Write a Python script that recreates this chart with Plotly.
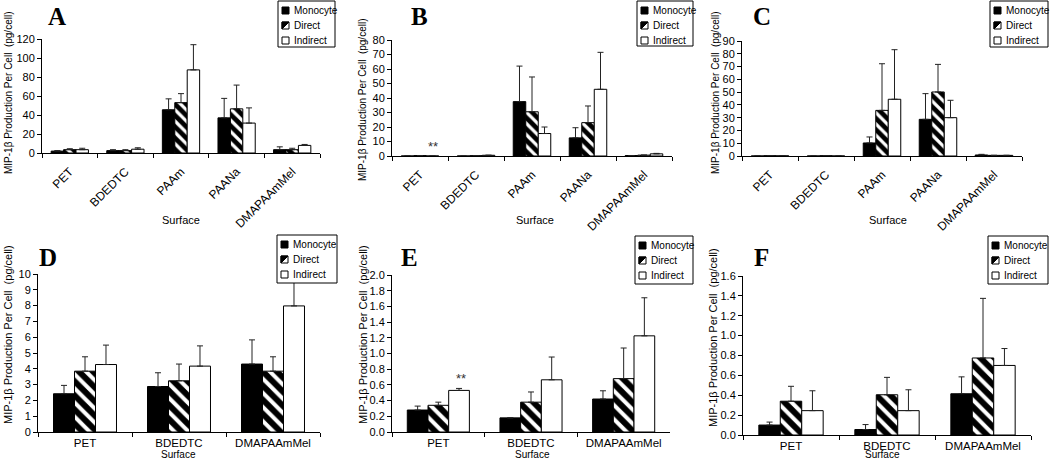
import plotly.graph_objects as go

# ---------------- data ----------------
categories_top = ["PET", "BDEDTC", "PAAm", "PAANa", "DMAPAAmMel"]
categories_bottom = ["PET", "BDEDTC", "DMAPAAmMel"]
series_names = ["Monocyte", "Direct", "Indirect"]

# Panel A
a_monocyte = [2.0, 2.5, 45.5, 37.0, 3.5]
a_monocyte_err = [0.5, 1.0, 11.5, 20.5, 3.0]
a_direct = [3.5, 2.5, 53.0, 46.5, 3.5]
a_direct_err = [1.0, 1.0, 9.5, 25.0, 1.5]
a_indirect = [3.5, 4.0, 87.5, 31.5, 8.0]
a_indirect_err = [1.5, 1.5, 26.5, 16.0, 1.0]

# Panel B
b_monocyte = [0.0, 0.0, 37.5, 12.5, 0.3]
b_monocyte_err = [0.0, 0.0, 24.5, 7.0, 0.0]
b_direct = [0.3, 0.2, 30.5, 23.0, 0.6]
b_direct_err = [0.0, 0.0, 24.0, 11.5, 0.0]
b_indirect = [0.0, 0.5, 15.5, 46.0, 1.5]
b_indirect_err = [0.0, 0.0, 4.5, 25.5, 0.3]

# Panel C
c_monocyte = [0.0, 0.0, 10.2, 28.7, 0.8]
c_monocyte_err = [0.0, 0.0, 4.7, 20.1, 0.5]
c_direct = [0.2, 0.2, 35.7, 50.1, 0.5]
c_direct_err = [0.0, 0.0, 36.5, 21.6, 0.0]
c_indirect = [0.1, 0.0, 44.4, 30.0, 0.5]
c_indirect_err = [0.0, 0.0, 38.8, 13.6, 0.0]

# Panel D
d_monocyte = [2.42, 2.88, 4.30]
d_monocyte_err = [0.53, 0.87, 1.53]
d_direct = [3.85, 3.24, 3.85]
d_direct_err = [0.91, 1.06, 0.91]
d_indirect = [4.27, 4.17, 7.98]
d_indirect_err = [1.23, 1.28, 2.00]

# Panel E
e_monocyte = [0.28, 0.18, 0.42]
e_monocyte_err = [0.05, 0.0, 0.105]
e_direct = [0.34, 0.38, 0.68]
e_direct_err = [0.04, 0.13, 0.39]
e_indirect = [0.53, 0.665, 1.225]
e_indirect_err = [0.025, 0.29, 0.485]

# Panel F
f_monocyte = [0.10, 0.055, 0.415]
f_monocyte_err = [0.03, 0.05, 0.17]
f_direct = [0.34, 0.405, 0.775]
f_direct_err = [0.15, 0.175, 0.60]
f_indirect = [0.245, 0.245, 0.70]
f_indirect_err = [0.20, 0.21, 0.17]

y_ranges = [[0, 120], [0, 80], [0, 90], [0, 10], [0, 2.0], [0, 1.6]]
y_dticks = [20, 10, 10, 1, 0.2, 0.2]
y_formats = ["d", "d", "d", "d", ".1f", ".1f"]
panel_letters = ["A", "B", "C", "D", "E", "F"]
star_labels = [None, ("PET", 8.3), None, None, ("PET", 0.72), None]
y_title = "MIP-1β Production Per Cell  (pg/cell)"

# ---------------- layout geometry (pixels) ----------------
W, H = 1050, 460
def px(x):
    return x / W
def py(y):
    return 1 - y / H

# (left, right, top, bottom) of each plot area in pixels
boxes = [
    (42, 320, 39, 153),
    (392, 672, 40, 156),
    (742, 1022, 41, 156),
    (38, 320, 274, 432),
    (392, 670, 275, 432),
    (743, 1031, 276, 435),
]
# legend boxes (x0, x1, y0, y1) in pixels
legend_boxes = [
    (278, 335, 1, 47),
    (637, 693, 1, 46),
    (990, 1048, 1, 47),
    (277, 337, 235, 283),
    (635, 693, 236, 284),
    (988, 1048, 236, 284),
]
letter_pos = [(57, 16), (419, 16), (762, 16), (48, 257), (409, 257), (761, 257)]
ytitle_pos = [(8, 93), (363, 100), (715, 93), (8, 335), (363, 335), (713, 338)]
surface_pos = [(181, 220), (535, 220), (888, 220), (178, 454), (532, 454), (882, 454)]

panels = [
    (categories_top, [a_monocyte, a_direct, a_indirect], [a_monocyte_err, a_direct_err, a_indirect_err]),
    (categories_top, [b_monocyte, b_direct, b_indirect], [b_monocyte_err, b_direct_err, b_indirect_err]),
    (categories_top, [c_monocyte, c_direct, c_indirect], [c_monocyte_err, c_direct_err, c_indirect_err]),
    (categories_bottom, [d_monocyte, d_direct, d_indirect], [d_monocyte_err, d_direct_err, d_indirect_err]),
    (categories_bottom, [e_monocyte, e_direct, e_indirect], [e_monocyte_err, e_direct_err, e_indirect_err]),
    (categories_bottom, [f_monocyte, f_direct, f_indirect], [f_monocyte_err, f_direct_err, f_indirect_err]),
]

def marker_style(k, top):
    line = dict(color="black", width=1)
    if k == 0:
        return dict(color="black", line=line)
    if k == 1:
        return dict(color="white", line=line,
                    pattern=dict(shape="\\", fgcolor="black", bgcolor="white",
                                 fgopacity=1, size=8 if top else 10, solidity=0.6))
    return dict(color="white", line=line)

fig = go.Figure()
layout = dict(
    width=W, height=H,
    margin=dict(l=0, r=0, t=0, b=0, autoexpand=False),
    paper_bgcolor="white", plot_bgcolor="white",
    font=dict(family="Liberation Sans, Arial", size=11, color="black"),
    barmode="group", bargap=0.33, bargroupgap=0.0,
    showlegend=False,
)
annotations = []
shapes = []

for i, (cats, vals, errs) in enumerate(panels):
    n = i + 1
    xa = "x" if n == 1 else f"x{n}"
    ya = "y" if n == 1 else f"y{n}"
    top = i < 3
    for k in range(3):
        fig.add_trace(go.Bar(
            x=cats, y=vals[k], name=series_names[k],
            xaxis=xa, yaxis=ya, showlegend=False,
            marker=marker_style(k, top),
            error_y=dict(type="data", symmetric=False, array=errs[k],
                         arrayminus=[0] * len(errs[k]),
                         color="#222", thickness=1, width=3),
        ))
    l, r, t, b = boxes[i]
    xkey = "xaxis" if n == 1 else f"xaxis{n}"
    ykey = "yaxis" if n == 1 else f"yaxis{n}"
    layout[xkey] = dict(
        domain=[px(l), px(r)], anchor=ya, type="category",
        showline=True, linecolor="black", linewidth=1,
        ticks="outside", ticklen=4, tickcolor="black", tickson="boundaries",
        tickangle=-45 if top else 0, showgrid=False, zeroline=False,
        tickfont=dict(size=12 if top else 11.5), ticklabelstandoff=6 if top else 0,
        fixedrange=True, automargin=False,
    )
    layout[ykey] = dict(
        domain=[py(b), py(t)], anchor=xa, range=y_ranges[i],
        dtick=y_dticks[i], tick0=0, tickformat=y_formats[i],
        showline=True, linecolor="black", linewidth=1,
        ticks="outside", ticklen=4, tickcolor="black",
        showgrid=False, zeroline=False, tickfont=dict(size=11),
        fixedrange=True, automargin=False,
    )
    # legend drawn as shapes + text
    x0, x1, y0, y1 = legend_boxes[i]
    shapes.append(dict(type="rect", xref="paper", yref="paper",
                       x0=px(x0), x1=px(x1), y0=py(y1), y1=py(y0),
                       line=dict(color="black", width=1), fillcolor="white", layer="above"))
    for k in range(3):
        cy = y0 + 9.5 + 15 * k
        sx0, sx1 = x0 + 4, x0 + 11
        sy0, sy1 = cy - 3.5, cy + 3.5
        shapes.append(dict(type="rect", xref="paper", yref="paper",
                           x0=px(sx0), x1=px(sx1), y0=py(sy1), y1=py(sy0),
                           line=dict(color="black", width=1),
                           fillcolor="black" if k == 0 else "white", layer="above"))
        if k == 1:
            path = (f"M {px(sx0)},{py(sy0)} L {px(sx1)},{py(sy0)} "
                    f"L {px(sx0)},{py(sy1)} Z")
            shapes.append(dict(type="path", xref="paper", yref="paper", path=path,
                               line=dict(color="black", width=1), fillcolor="black",
                               layer="above"))
        annotations.append(dict(
            x=px(x0 + 14), y=py(cy), xref="paper", yref="paper", text=series_names[k],
            showarrow=False, xanchor="left", yanchor="middle",
            font=dict(size=10, color="black"),
        ))
    # panel letter
    ax_, ay_ = letter_pos[i]
    annotations.append(dict(
        x=px(ax_), y=py(ay_), xref="paper", yref="paper", text=f"<b>{panel_letters[i]}</b>",
        showarrow=False, xanchor="center", yanchor="middle",
        font=dict(family="Liberation Serif, Times New Roman", size=25, color="black"),
    ))
    # y title
    tx, ty = ytitle_pos[i]
    annotations.append(dict(
        x=px(tx), y=py(ty), xref="paper", yref="paper",
        text=y_title, textangle=-90,
        showarrow=False, xanchor="center", yanchor="middle",
        font=dict(size=10 if top else 11, color="black"),
    ))
    # x title
    sx, sy = surface_pos[i]
    annotations.append(dict(
        x=px(sx), y=py(sy), xref="paper", yref="paper", text="Surface",
        showarrow=False, xanchor="center", yanchor="middle",
        font=dict(size=11 if top else 10, color="black"),
    ))
    # significance stars
    if star_labels[i] is not None:
        cat, yv = star_labels[i]
        annotations.append(dict(
            x=cat, y=yv, xref=xa, yref=ya, text="**", showarrow=False,
            xanchor="center", yanchor="middle", xshift=13 if top else 23, yshift=-3,
            font=dict(size=13, color="#333"),
        ))

layout["annotations"] = annotations
layout["shapes"] = shapes
fig.update_layout(**layout)
fig.write_html(
    "out.html",
    config={"displayModeBar": False, "staticPlot": True},
    post_script="document.body.style.margin='0';document.body.style.overflow='hidden';",
)
